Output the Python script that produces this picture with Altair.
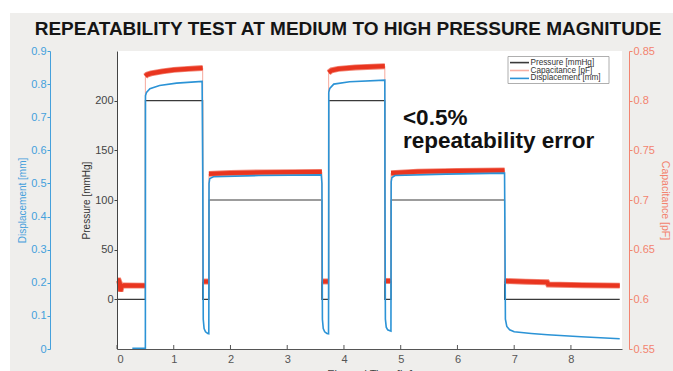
import altair as alt
import pandas as pd

# ---------------- text ----------------
title_text = "REPEATABILITY TEST AT MEDIUM TO HIGH PRESSURE MAGNITUDE"
note_lines = ["<0.5%", "repeatability error"]
note_t = [5.04, 5.04]
note_p = [175.5, 152.0]
legend_labels = ["Pressure [mmHg]", "Capacitance [pF]", "Displacement [mm]"]

# ---------------- ticks ----------------
x_ticks = [0, 1, 2, 3, 4, 5, 6, 7, 8]
p_ticks = [0, 50, 100, 150, 200]
d_ticks = [0, 0.1, 0.2, 0.3, 0.4, 0.5, 0.6, 0.7, 0.8, 0.9]
c_ticks = [0.55, 0.6, 0.65, 0.7, 0.75, 0.8, 0.85]

# ---------------- Pressure [mmHg] ----------------
pressure_t = [0, 0.50, 0.50, 1.51, 1.51, 1.62, 1.62, 3.61, 3.61, 3.73, 3.73,
              4.72, 4.72, 4.83, 4.83, 6.83, 6.83, 8.86]
pressure_v = [0, 0, 200, 200, 0, 0, 100, 100, 0, 0, 200,
              200, 0, 0, 100, 100, 0, 0]

# ---------------- Displacement [mm] ----------------
disp_t = [0.27, 0.50,
          0.502, 0.52, 0.58, 0.75, 1.05, 1.50,
          1.512, 1.52, 1.535, 1.56, 1.60, 1.618,
          1.622, 1.635, 1.70, 2.50, 3.60,
          3.612, 3.62, 3.635, 3.66, 3.70, 3.728,
          3.732, 3.75, 3.82, 4.10, 4.72,
          4.722, 4.73, 4.745, 4.77, 4.81, 4.828,
          4.832, 4.845, 4.90, 5.80, 6.83,
          6.835, 6.845, 6.87, 6.92, 7.00, 7.30, 7.59, 8.18, 8.86]
disp_v = [0.002, 0.002,
          0.765, 0.775, 0.786, 0.796, 0.803, 0.808,
          0.50, 0.09, 0.062, 0.052, 0.047, 0.046,
          0.50, 0.515, 0.520, 0.524, 0.526,
          0.50, 0.09, 0.062, 0.052, 0.047, 0.046,
          0.775, 0.787, 0.800, 0.807, 0.812,
          0.50, 0.09, 0.066, 0.058, 0.055, 0.054,
          0.505, 0.518, 0.524, 0.528, 0.531,
          0.40, 0.09, 0.068, 0.058, 0.052, 0.047, 0.043, 0.037, 0.031]

# ---------------- Capacitance [pF] ----------------
cap_seg = [0, 0, 0, 0, 0, 0, 0,
           1, 1, 1, 1, 1, 1, 1,
           2, 2,
           3, 3, 3, 3,
           4, 4,
           5, 5, 5, 5, 5,
           6, 6,
           7, 7, 7, 7,
           8, 8, 8, 8, 8, 8]
cap_t = [0.0, 0.03, 0.05, 0.06, 0.08, 0.12, 0.50,
         0.50, 0.53, 0.60, 0.80, 1.00, 1.25, 1.51,
         1.51, 1.62,
         1.62, 2.00, 2.60, 3.61,
         3.61, 3.73,
         3.73, 3.78, 3.90, 4.20, 4.72,
         4.72, 4.83,
         4.83, 5.30, 6.00, 6.83,
         6.83, 7.20, 7.58, 7.60, 8.20, 8.86]
cap_v = [0.619, 0.619, 0.616, 0.608, 0.613, 0.614, 0.6138,
         0.8246, 0.8262, 0.8275, 0.8295, 0.8310, 0.8320, 0.8329,
         0.6179, 0.6179,
         0.7263, 0.7272, 0.7278, 0.7283,
         0.6180, 0.6180,
         0.8283, 0.8305, 0.8320, 0.8335, 0.8347,
         0.6185, 0.6185,
         0.7270, 0.7285, 0.7293, 0.7298,
         0.6185, 0.6178, 0.6172, 0.6150, 0.6143, 0.6138]

# ---------------- frames ----------------
df_p = pd.DataFrame({"t": pressure_t, "v": pressure_v})
df_d = pd.DataFrame({"t": disp_t, "v": disp_v})
df_c = pd.DataFrame({"t": cap_t, "v": cap_v, "seg": cap_seg})
df_note = pd.DataFrame({"t": note_t, "v": note_p, "txt": note_lines})
df_xt = pd.DataFrame({"t": x_ticks})
one = pd.DataFrame({"k": [0]})

W, H = 505, 298
FONT = "Liberation Sans"
C_P = "#3a3a3a"
C_D = "#2b93d6"
C_DA = "#45a0dc"
C_C = "#e9351f"
C_CA = "#f3836f"
C_AX = "#555555"

X = alt.X("t:Q", scale=alt.Scale(domain=[0, 8.9], nice=False, zero=False),
          axis=alt.Axis(values=x_ticks, title="Elapsed Time [hr]", format="d",
                        tickSize=0, labelPadding=4, domainColor=C_AX,
                        labelColor=C_AX, titleColor="#444444", labelFontSize=11,
                        titleFontSize=11, titleFontWeight="normal", titlePadding=4,
                        labelFont=FONT, titleFont=FONT, grid=False, zindex=1))

p_scale = alt.Scale(domain=[-50, 250], nice=False, zero=False)
d_scale = alt.Scale(domain=[0, 0.9], nice=False, zero=False)
c_scale = alt.Scale(domain=[0.55, 0.85], nice=False, zero=False)

bg_gray = alt.Chart(one).mark_rect(color="#efeeec").encode(
    x=alt.value(-107), x2=alt.value(556), y=alt.value(-38), y2=alt.value(320))
bg_white = alt.Chart(one).mark_rect(color="white").encode(
    x=alt.value(0), x2=alt.value(W), y=alt.value(0), y2=alt.value(H))

pressure = alt.Chart(df_p).mark_line(color=C_P, strokeWidth=1.1).encode(
    x=X,
    y=alt.Y("v:Q", scale=p_scale,
            axis=alt.Axis(orient="left", values=p_ticks, title="Pressure [mmHg]",
                          tickSize=3, labelPadding=1, domainColor="#444444",
                          tickColor="#444444", labelColor="#444444",
                          titleColor="#333333", labelFontSize=11, titleFontSize=10,
                          titleFontWeight="normal", titlePadding=3, labelFont=FONT,
                          titleFont=FONT, grid=False, zindex=1)),
    order="t:Q")

cap_pink = alt.Chart(df_c).mark_line(color="#f6a99c", strokeWidth=1).encode(
    x=X, y=alt.Y("v:Q", scale=c_scale, axis=None), order="t:Q")
cap_halo = alt.Chart(df_c).mark_line(color="#f28474", strokeWidth=6).encode(
    x=X, y=alt.Y("v:Q", scale=c_scale, axis=None), detail="seg:N", order="t:Q")
cap_band = alt.Chart(df_c).mark_line(color=C_C, strokeWidth=4.2).encode(
    x=X,
    y=alt.Y("v:Q", scale=c_scale,
            axis=alt.Axis(orient="right", offset=7, values=c_ticks, format=".2~f",
                          title="Capacitance [pF]", tickSize=3, labelPadding=1,
                          domainColor=C_CA, tickColor=C_CA, labelColor=C_CA,
                          titleColor=C_CA, labelFontSize=11, titleFontSize=10.5,
                          titleFontWeight="normal", titlePadding=5, labelFont=FONT,
                          titleFont=FONT, grid=False, zindex=1)),
    detail="seg:N", order="t:Q")

disp = alt.Chart(df_d).mark_line(color=C_D, strokeWidth=1.6).encode(
    x=X,
    y=alt.Y("v:Q", scale=d_scale,
            axis=alt.Axis(orient="left", offset=67, values=d_ticks, format=".1~f",
                          title="Displacement [mm]", tickSize=3, labelPadding=1,
                          domainColor=C_DA, tickColor=C_DA, labelColor=C_DA,
                          titleColor=C_DA, labelFontSize=11, titleFontSize=10,
                          titleFontWeight="normal", titlePadding=3, labelFont=FONT,
                          titleFont=FONT, grid=False, zindex=1)),
    order="t:Q")

note = alt.Chart(df_note).mark_text(font=FONT, fontSize=22.5, fontWeight="bold",
                                    align="left", baseline="alphabetic",
                                    color="#111111").encode(
    x=X, y=alt.Y("v:Q", scale=p_scale, axis=None), text="txt:N")

xticks_in = alt.Chart(df_xt).mark_rule(color=C_AX, strokeWidth=1).encode(
    x=X, y=alt.value(H - 4), y2=alt.value(H))

leg_box = alt.Chart(one).mark_rect(fill="white", stroke="#9a9a9a", strokeWidth=0.8).encode(
    x=alt.value(391), x2=alt.value(492), y=alt.value(5.5), y2=alt.value(32.5))
leg_rows = [11.6, 19.5, 27.4]
leg_colors = [C_P, "#f6b0a4", C_D]
leg_layers = []
for lab, ry, col in zip(legend_labels, leg_rows, leg_colors):
    leg_layers.append(alt.Chart(one).mark_rule(color=col, strokeWidth=1.6).encode(
        x=alt.value(393), x2=alt.value(412), y=alt.value(ry)))
    leg_layers.append(alt.Chart(pd.DataFrame({"label": [lab]})).mark_text(
        font=FONT, fontSize=8.2, align="left", baseline="middle", color="#333333").encode(
        x=alt.value(413.5), y=alt.value(ry), text="label:N"))

title = alt.Chart(pd.DataFrame({"title": [title_text]})).mark_text(
    font=FONT, fontSize=19, fontWeight="bold", align="center",
    baseline="alphabetic", color="#151515").encode(
    x=alt.value(231), y=alt.value(-16), text="title:N")

chart = alt.layer(
    bg_gray, bg_white, xticks_in, pressure, cap_pink, cap_halo, cap_band, disp,
    note, leg_box, *leg_layers, title
).resolve_scale(y="independent").properties(
    width=W, height=H,
    padding={"left": 117, "top": 51, "right": 51, "bottom": 22},
    autosize=alt.AutoSizeParams(type="none"),
    background="white",
).configure_view(stroke=None)

chart.save("out.html", embed_options={"renderer": "svg", "actions": False})
